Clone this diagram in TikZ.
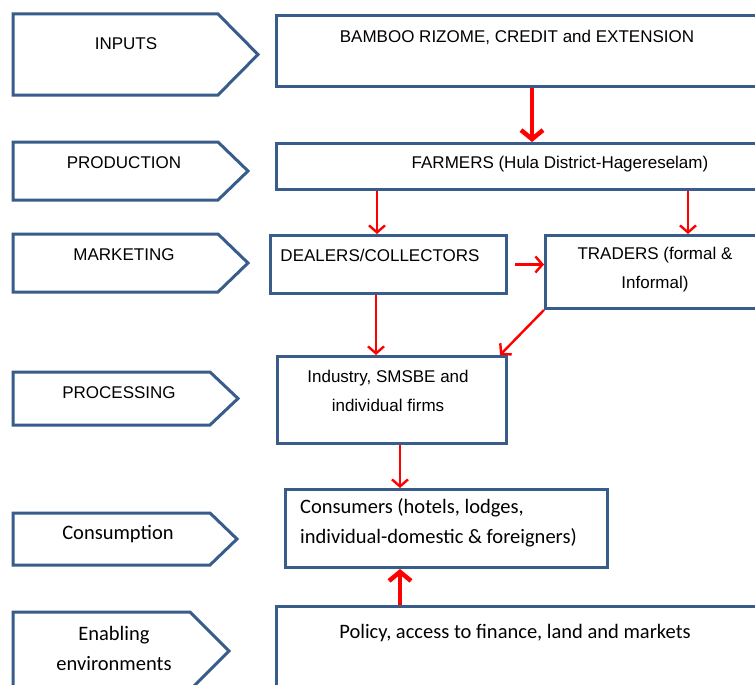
\documentclass[tikz,border=0pt]{standalone}
\usepackage{fontspec}
\usetikzlibrary{arrows.meta}
\newfontfamily\tahfont{Liberation Sans}
\newfontfamily\calfont{Carlito}
\definecolor{boxblue}{RGB}{56,93,138}
\definecolor{flowred}{RGB}{255,0,0}

\tikzset{
  stage/.style={draw=boxblue, line width=3pt, line join=miter},
  box/.style={draw=boxblue, line width=3pt, anchor=north west, inner sep=0pt},
  lbl/.style={font=\tahfont\fontsize{17}{29}\selectfont, align=center, inner sep=0pt},
  clbl/.style={font=\calfont\fontsize{20.5}{30}\selectfont, align=center, inner sep=0pt},
  flow/.style={draw=flowred, line width=2.4pt, -{Straight Barb[length=7pt, width=16pt]}},
  bigflow/.style={draw=flowred, line width=4.5pt, -{Straight Barb[length=9pt, width=22pt]}}
}

\begin{document}
\begin{tikzpicture}[x=1pt, y=-1pt]
    \useasboundingbox[fill=white] (0,0) rectangle (755,685);
    \clip (0,0) rectangle (755,685);

    % stage arrows on the left
    \foreach \top/\bot/\cut/\tip in {14/95/218/258, 142/200/218/248, 234/292/218/248,
                                     372/425/210/238, 513/565/210/237, 612/690/190/229} {
        \draw[stage] (13,\top) -- (\cut,\top) -- (\tip,{(\top+\bot)/2}) -- (\cut,\bot) -- (13,\bot) -- cycle;
    }
    \node[lbl] (sInputs) at (126,44) {INPUTS};
    \node[lbl] (sProd) at (124,163) {PRODUCTION};
    \node[lbl] (sMarket) at (124,255) {MARKETING};
    \node[lbl] (sProc) at (119,393) {PROCESSING};
    \node[clbl] (sCons) at (118,534) {Consumption};
    \node[clbl] (sEnv) at (114,648) {Enabling\\environments};

    % value chain boxes
    \node[box, minimum width=485, minimum height=71] (inp) at (275,14) {};
    \node[box, minimum width=570, minimum height=46] (farm) at (275,142) {};
    \node[box, minimum width=236, minimum height=58] (deal) at (269,234) {};
    \node[box, minimum width=222, minimum height=73] (trad) at (544,234) {};
    \node[box, minimum width=229, minimum height=87] (proc) at (276,355) {};
    \node[box, minimum width=322, minimum height=78] (cons) at (284,488) {};
    \node[box, minimum width=500, minimum height=100] (pol) at (275,605) {};

    \node[lbl] (tInp) at (517,37) {BAMBOO RIZOME, CREDIT and EXTENSION};
    \node[lbl] (tFarm) at (560,164) {FARMERS (Hula District-Hagereselam)};
    \node[lbl] (tDeal) at (380,255) {DEALERS/COLLECTORS};
    \node[lbl] (tTrad) at (655,270) {TRADERS (formal \&\\Informal)};
    \node[lbl] (tProc) at (388,391) {Industry, SMSBE and\\individual firms};
    \node[clbl, anchor=west, align=left] (tCons) at (300,523) {Consumers (hotels, lodges,\\individual-domestic \& foreigners)};
    \node[clbl] (tPol) at (515,633) {Policy, access to finance, land and markets};

    % flows
    \draw[bigflow] ([xshift=257pt]inp.south west) -- ([xshift=257pt]farm.north west);
    \draw[flow] ([xshift=102pt]farm.south west) -- ([xshift=108pt]deal.north west);
    \draw[flow] ([xshift=413pt]farm.south west) -- ([xshift=144pt]trad.north west);
    \draw[flow] ([xshift=7pt]deal.east) -- (deal.east -| trad.west);
    \draw[flow] ([xshift=107pt]deal.south west) -- ([xshift=100pt]proc.north west);
    \draw[flow] (trad.south west) -- ([xshift=-8pt]proc.north east);
    \draw[flow] ([xshift=124pt]proc.south west) -- ([xshift=116pt]cons.north west);
    \draw[bigflow] ([xshift=125pt]pol.north west) -- ([xshift=116pt]cons.south west);
\end{tikzpicture}
\end{document}
